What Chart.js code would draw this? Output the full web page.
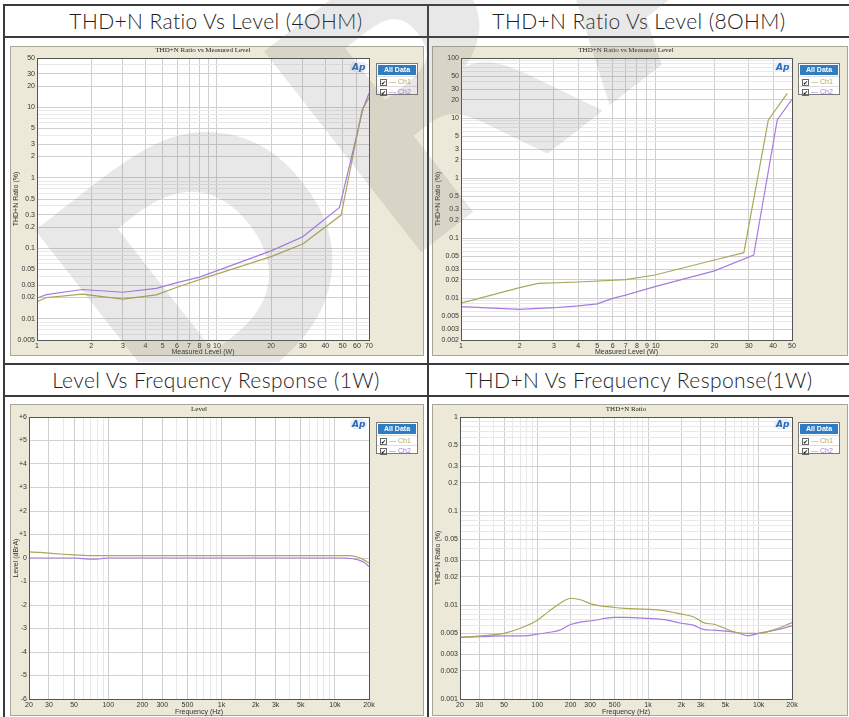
<!DOCTYPE html>
<html><head><meta charset="utf-8">
<script src="https://cdn.jsdelivr.net/npm/chart.js@4.4.1/dist/chart.umd.min.js"></script>
<style>
html,body{margin:0;padding:0}
body{width:849px;height:717px;background:#fff;position:relative;overflow:hidden;font-family:'Liberation Sans',Arial,sans-serif}
.ln{position:absolute;background:#3a3a3a}
.hdr{position:absolute;text-align:center;font-family:Lato,'Open Sans',sans-serif;font-weight:300;font-size:21px;letter-spacing:0.4px;color:#1e1e1e;white-space:nowrap;line-height:24px}
.panel{position:absolute;background:#ECE9D8;border:1px solid #a9a699;box-sizing:border-box}
canvas{position:absolute}
.ttl{position:absolute;font-family:'Liberation Serif',serif;font-size:7px;color:#222;white-space:nowrap;transform:translateX(-50%)}
.leg{position:absolute;background:#fff;border:1px solid #7a7a7a;box-sizing:border-box;font-size:7px;line-height:9px}
.lh{background:#2f7cc0;color:#fff;font-weight:bold;text-align:center;height:10px;line-height:10px;margin:1px 1px 1px 1px}
.lr{height:9px;padding-left:3px;white-space:nowrap;border-top:1px solid #ddd}
.cb{display:inline-block;width:5px;height:5px;border:1px solid #666;font-size:6px;line-height:5px;text-align:center;vertical-align:middle;margin-right:2px;font-family:'DejaVu Sans'}
.ap{position:absolute;font-family:'DejaVu Sans';font-style:italic;font-weight:bold;font-size:9px;color:#2a68b8;border-radius:7px;background:#e9eef7;padding:0 2px;line-height:10px}
#wm{position:absolute;left:0;top:0;z-index:20;pointer-events:none}
</style></head>
<body>
<!-- table lines -->
<div class="ln" style="left:3px;top:4px;width:2px;height:713px"></div>
<div class="ln" style="left:3px;top:4px;width:846px;height:2px"></div>
<div class="ln" style="left:427px;top:4px;width:2px;height:713px"></div>
<div class="ln" style="left:3px;top:36px;width:846px;height:2px"></div>
<div class="ln" style="left:3px;top:363px;width:846px;height:2px"></div>
<div class="ln" style="left:3px;top:395px;width:846px;height:2px"></div>

<div class="hdr" style="left:5px;width:422px;top:9px">THD+N Ratio Vs Level (4OHM)</div>
<div class="hdr" style="left:429px;width:420px;top:9px">THD+N Ratio Vs Level (8OHM)</div>
<div class="hdr" style="left:5px;width:422px;top:368px">Level Vs Frequency Response (1W)</div>
<div class="hdr" style="left:429px;width:420px;top:368px">THD+N Vs Frequency Response(1W)</div>

<div class="panel" style="left:10px;top:46px;width:414px;height:310px"></div>
<div class="panel" style="left:432px;top:46px;width:416px;height:310px"></div>
<div class="panel" style="left:10px;top:404px;width:414px;height:312px"></div>
<div class="panel" style="left:432px;top:404px;width:416px;height:312px"></div>

<canvas id="c1"></canvas><canvas id="c2"></canvas><canvas id="c3"></canvas><canvas id="c4"></canvas>

<div class="ttl" style="left:203px;top:46px">THD+N Ratio vs Measured Level</div>
<div class="ttl" style="left:626px;top:46px">THD+N Ratio vs Measured Level</div>
<div class="ttl" style="left:199px;top:405px">Level</div>
<div class="ttl" style="left:626px;top:405px">THD+N Ratio</div>

<div class="ap" style="left:350px;top:62px">Ap</div>
<div class="ap" style="left:774px;top:62px">Ap</div>
<div class="ap" style="left:350px;top:419px">Ap</div>
<div class="ap" style="left:774px;top:419px">Ap</div>

<div id="legends"></div>

<svg id="wm" width="849" height="717">
  <defs><clipPath id="topRow"><rect x="0" y="0" width="849" height="362"/></clipPath></defs>
  <g clip-path="url(#topRow)">
    <text x="167" y="451" transform="rotate(-38 167 451)" font-family="DejaVu Sans" font-weight="bold" font-size="350" fill="rgba(120,120,120,0.17)">DRAFT</text>
  </g>
</svg>

<script>
// ---------------- DATA ----------------
const seriesNames = ['Ch1', 'Ch2'];

// Chart 1: THD+N vs Level (4 ohm)
const c1Ch1X = [1, 1.13, 1.78, 3, 4.6, 6, 8, 20, 30, 49, 64, 70];
const c1Ch1Y = [0.0175, 0.020, 0.0224, 0.019, 0.0218, 0.028, 0.036, 0.076, 0.115, 0.296, 9.1, 13.8];
const c1Ch2X = [1, 1.13, 1.78, 3, 4.6, 6, 8, 20, 30, 48, 65, 70];
const c1Ch2Y = [0.0197, 0.022, 0.026, 0.0238, 0.027, 0.0325, 0.039, 0.092, 0.146, 0.38, 9.7, 15.8];
const c1XTicks = [1, 2, 3, 4, 5, 6, 7, 8, 9, 10, 20, 30, 40, 50, 60, 70];
const c1YTicks = [50, 30, 20, 10, 5, 3, 2, 1, 0.5, 0.3, 0.2, 0.1, 0.05, 0.03, 0.02, 0.01, 0.005];

// Chart 2: THD+N vs Level (8 ohm)
const c2Ch1X = [1, 2, 2.49, 4, 7, 9.9, 20, 28.3, 37.8, 47.3];
const c2Ch1Y = [0.0082, 0.0149, 0.0176, 0.0185, 0.0203, 0.0242, 0.043, 0.057, 9.3, 25.8];
const c2Ch2X = [1, 2, 3, 4, 5, 6, 7, 9.9, 20, 31.8, 42, 50];
const c2Ch2Y = [0.0072, 0.0065, 0.0069, 0.0074, 0.0080, 0.0099, 0.0112, 0.0155, 0.0284, 0.052, 9.3, 20.5];
const c2XTicks = [1, 2, 3, 4, 5, 6, 7, 8, 9, 10, 20, 30, 40, 50];
const c2YTicks = [100, 50, 30, 20, 10, 5, 3, 2, 1, 0.5, 0.3, 0.2, 0.1, 0.05, 0.03, 0.02, 0.01, 0.005, 0.003, 0.002];

// Chart 3: Level vs Frequency (1W)
const c3Freq = [20, 25, 30, 40, 50, 60, 70, 80, 90, 100, 200, 500, 1000, 2000, 5000, 10000, 12000, 13500, 15000, 16500, 18000, 20000];
const c3Ch1 = [0.26, 0.24, 0.21, 0.16, 0.13, 0.11, 0.10, 0.10, 0.10, 0.10, 0.10, 0.10, 0.10, 0.10, 0.10, 0.10, 0.10, 0.10, 0.07, 0.01, -0.08, -0.21];
const c3Ch2 = [0.0, 0.0, 0.0, 0.0, 0.0, -0.03, -0.05, -0.05, -0.02, 0.0, 0.0, 0.0, 0.0, 0.0, 0.0, 0.0, 0.0, -0.02, -0.05, -0.10, -0.18, -0.36];
const c3YTicks = [6, 5, 4, 3, 2, 1, 0, -1, -2, -3, -4, -5, -6];

// Chart 4: THD+N vs Frequency (1W)
const c4Freq = [20, 31, 50, 77, 100, 126, 160, 200, 250, 310, 500, 620, 1000, 1400, 2000, 2560, 3170, 4000, 6300, 8000, 10000, 14000, 20000];
const c4Ch1 = [0.00453, 0.0047, 0.0050, 0.0059, 0.0069, 0.0085, 0.0104, 0.0118, 0.0113, 0.0102, 0.0094, 0.0092, 0.0090, 0.0087, 0.0080, 0.0075, 0.0065, 0.0062, 0.0051, 0.0050, 0.0050, 0.0055, 0.0065];
const c4Ch2 = [0.00453, 0.0046, 0.0047, 0.0047, 0.0049, 0.0051, 0.0054, 0.0062, 0.0066, 0.0068, 0.0074, 0.0074, 0.0072, 0.0070, 0.0064, 0.0061, 0.0055, 0.0054, 0.0051, 0.0047, 0.0050, 0.0054, 0.0060];
const c4YTicks = [1, 0.5, 0.3, 0.2, 0.1, 0.05, 0.03, 0.02, 0.01, 0.005, 0.003, 0.002, 0.001];

const freqTicks = [20, 30, 50, 100, 200, 300, 500, 1000, 2000, 3000, 5000, 10000, 20000];
const freqTickLabels = ['20', '30', '50', '100', '200', '300', '500', '1k', '2k', '3k', '5k', '10k', '20k'];

// ---------------- STYLE ----------------
const COL1 = '#aba85a';
const COL2 = '#a77ce0';
const TICKFONT = {family: 'Liberation Sans', size: 7};

function logGrid(min, max) {
  const out = [];
  for (let e = Math.floor(Math.log10(min)); e <= Math.ceil(Math.log10(max)); e++) {
    for (let m = 1; m <= 9; m++) {
      const v = parseFloat((m * Math.pow(10, e)).toPrecision(6));
      if (v >= min * 0.9999 && v <= max * 1.0001) out.push(v);
    }
  }
  return out;
}
function near(a, b) { return Math.abs(a - b) <= Math.abs(b) * 1e-6 + 1e-12; }
function labelFor(v, ticks, labels) {
  for (let i = 0; i < ticks.length; i++) if (near(v, ticks[i])) return labels ? labels[i] : String(ticks[i]);
  return '';
}
function pts(xs, ys) { return xs.map((x, i) => ({x: x, y: ys[i]})); }

const frame = {
  id: 'frame',
  beforeDraw(c) {
    const a = c.chartArea, g = c.ctx;
    g.save(); g.fillStyle = '#fff'; g.fillRect(a.left, a.top, a.right - a.left, a.bottom - a.top); g.restore();
  },
  afterDraw(c) {
    const a = c.chartArea, g = c.ctx;
    g.save(); g.strokeStyle = '#555'; g.lineWidth = 1;
    g.strokeRect(Math.round(a.left) + 0.5, Math.round(a.top) + 0.5, Math.round(a.right - a.left), Math.round(a.bottom - a.top));
    g.restore();
  }
};

function axisLog(min, max, ticks, labels, title, isY, fixed) {
  const grid = logGrid(min, max);
  return {
    type: 'logarithmic', min: min, max: max,
    afterBuildTicks: s => { s.ticks = grid.map(v => ({value: v})); },
    afterFit: s => { if (isY) s.width = fixed; else s.height = fixed; },
    ticks: {
      autoSkip: false, maxRotation: 0, minRotation: 0, padding: 2, color: '#333', font: TICKFONT,
      callback: v => labelFor(v, ticks, labels)
    },
    grid: {
      drawTicks: false,
      color: ctx => (ctx.tick && labelFor(ctx.tick.value, ticks, labels) !== '') ? '#cfcfcf' : '#e9e9e9',
      lineWidth: 1
    },
    border: {display: true, color: '#555'},
    title: {display: true, text: title, color: '#333', font: TICKFONT, padding: isY ? {top: 2, bottom: 0} : {top: 0, bottom: 0}}
  };
}

function makeChart(id, rect, plot, xAxis, yAxis, sets, extra) {
  const cv = document.getElementById(id);
  cv.width = rect.w; cv.height = rect.h;
  cv.style.left = rect.x + 'px'; cv.style.top = rect.y + 'px';
  cv.style.width = rect.w + 'px'; cv.style.height = rect.h + 'px';
  return new Chart(cv, {
    type: 'line',
    data: {datasets: sets.map((s, i) => Object.assign({
      label: seriesNames[i], data: s, borderColor: i === 0 ? COL1 : COL2, borderWidth: 1.2,
      pointRadius: 0, fill: false, tension: 0
    }, extra || {}))},
    options: {
      responsive: false, animation: false, devicePixelRatio: 1,
      layout: {padding: {left: 0, top: plot.t - rect.y, right: rect.x + rect.w - plot.r, bottom: 0}},
      plugins: {legend: {display: false}, tooltip: {enabled: false}, title: {display: false}},
      scales: {x: xAxis, y: yAxis}
    },
    plugins: [frame]
  });
}

// Chart 1
makeChart('c1', {x: 10, y: 46, w: 414, h: 310}, {t: 58, r: 369},
  axisLog(1, 70, c1XTicks, null, 'Measured Level (W)', false, 356 - 340),
  axisLog(0.005, 50, c1YTicks, null, 'THD+N Ratio (%)', true, 37 - 10),
  [pts(c1Ch1X, c1Ch1Y), pts(c1Ch2X, c1Ch2Y)]);

// Chart 2
makeChart('c2', {x: 432, y: 46, w: 416, h: 310}, {t: 58, r: 792},
  axisLog(1, 50, c2XTicks, null, 'Measured Level (W)', false, 356 - 340),
  axisLog(0.002, 100, c2YTicks, null, 'THD+N Ratio (%)', true, 461 - 432),
  [pts(c2Ch1X, c2Ch1Y), pts(c2Ch2X, c2Ch2Y)]);

// Chart 3
const c3y = {
  type: 'linear', min: -6, max: 6,
  afterBuildTicks: s => { s.ticks = c3YTicks.map(v => ({value: v})); },
  afterFit: s => { s.width = 29 - 10; },
  ticks: {autoSkip: false, padding: 2, color: '#333', font: TICKFONT, callback: v => v > 0 ? '+' + v : String(v)},
  grid: {drawTicks: false, color: '#d2d2d2'},
  border: {display: true, color: '#555'},
  title: {display: true, text: 'Level (dBrA)', color: '#333', font: TICKFONT, padding: {top: 2, bottom: 0}}
};
makeChart('c3', {x: 10, y: 404, w: 414, h: 312}, {t: 417, r: 369},
  axisLog(20, 20000, freqTicks, freqTickLabels, 'Frequency (Hz)', false, 716 - 699),
  c3y,
  [pts(c3Freq, c3Ch1), pts(c3Freq, c3Ch2)], {cubicInterpolationMode: 'monotone'});

// Chart 4
makeChart('c4', {x: 432, y: 404, w: 416, h: 312}, {t: 417, r: 792},
  axisLog(20, 20000, freqTicks, freqTickLabels, 'Frequency (Hz)', false, 716 - 699),
  axisLog(0.001, 1, c4YTicks, null, 'THD+N Ratio (%)', true, 460 - 432),
  [pts(c4Freq, c4Ch1), pts(c4Freq, c4Ch2)], {cubicInterpolationMode: 'monotone'});

// Legends
const legPos = [[376, 63], [798, 63], [376, 422], [798, 422]];
const host = document.getElementById('legends');
legPos.forEach(p => {
  const d = document.createElement('div');
  d.className = 'leg';
  d.style.left = p[0] + 'px'; d.style.top = p[1] + 'px'; d.style.width = '42px'; d.style.height = '32px';
  let h = '<div class="lh">All Data</div>';
  seriesNames.forEach((n, i) => {
    h += '<div class="lr"><span class="cb">\u2714</span><span style="color:' + (i === 0 ? COL1 : COL2) + '">\u2014 ' + n + '</span></div>';
  });
  d.innerHTML = h;
  host.appendChild(d);
});
</script>
</body></html>
